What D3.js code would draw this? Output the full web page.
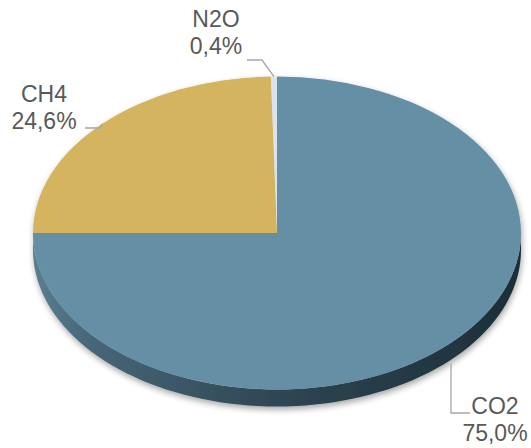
<!DOCTYPE html>
<html>
<head>
<meta charset="utf-8">
<script src="https://cdn.jsdelivr.net/npm/d3@7"></script>
<style>
  html, body { margin: 0; padding: 0; background: #fff; }
  svg { display: block; }
  text { font-family: "Liberation Sans", Arial, sans-serif; fill: #595959; }
</style>
</head>
<body>
<svg id="chart" width="531" height="448"></svg>
<script>
// Greenhouse gas shares
const gases = ["CO2", "CH4", "N2O"];
const shares = [75.0, 24.6, 0.4];
const shareLabels = ["75,0%", "24,6%", "0,4%"];
const topColors = ["#658fa4", "#d5b45f", "#dde3ec"];

const W = 531, H = 448;
const cx = 277, cy = 233;      // centre of the top face
const rx = 244, ry = 156.5;    // ellipse radii of the tilted disc
const depth = 17;              // thickness of the disc

const svg = d3.select("#chart");
const defs = svg.append("defs");

// soft shadow under the disc
const sh = defs.append("filter").attr("id", "shadow")
  .attr("x", "-10%").attr("y", "-10%").attr("width", "120%").attr("height", "130%");
sh.append("feGaussianBlur").attr("in", "SourceAlpha").attr("stdDeviation", 3);
sh.append("feOffset").attr("dx", 1).attr("dy", 3).attr("result", "b");
sh.append("feComponentTransfer").append("feFuncA").attr("type", "linear").attr("slope", 0.35);
const m = sh.append("feMerge");
m.append("feMergeNode");
m.append("feMergeNode").attr("in", "SourceGraphic");

// shading of the side wall
const side = defs.append("linearGradient").attr("id", "sideGrad")
  .attr("gradientUnits", "userSpaceOnUse")
  .attr("x1", cx - rx).attr("x2", cx + rx).attr("y1", 0).attr("y2", 0);
side.append("stop").attr("offset", "0").attr("stop-color", "#5a7f91");
side.append("stop").attr("offset", "0.12").attr("stop-color", "#476677");
side.append("stop").attr("offset", "0.5").attr("stop-color", "#2f4653");
side.append("stop").attr("offset", "1").attr("stop-color", "#1c2e38");

const data = gases.map((g, i) => ({ gas: g, value: shares[i], label: shareLabels[i], color: topColors[i] }));

const pie = d3.pie().sort(null).value(d => d.value).startAngle(0).endAngle(2 * Math.PI);
const arcs = pie(data);

// ellipse point for a d3 angle (0 = 12 o'clock, clockwise)
const pt = (a, dy = 0) => [cx + rx * Math.sin(a), cy - ry * Math.cos(a) + dy];

const g = svg.append("g").attr("filter", "url(#shadow)");

// side walls: only the front half (angles between pi/2 and 3pi/2) is visible
arcs.forEach(a => {
  const a0 = Math.max(a.startAngle, Math.PI / 2);
  const a1 = Math.min(a.endAngle, 3 * Math.PI / 2);
  if (a1 <= a0) return;
  const n = 80;
  const top = d3.range(n + 1).map(k => pt(a0 + (a1 - a0) * k / n));
  const bot = top.map(p => [p[0], p[1] + depth]).reverse();
  g.append("path")
    .attr("d", d3.line()(top.concat(bot)) + "Z")
    .attr("fill", "url(#sideGrad)");
});

// top faces: circular arcs squashed into the ellipse
const arc = d3.arc().innerRadius(0).outerRadius(rx);
g.append("g")
  .attr("transform", `translate(${cx},${cy}) scale(1,${ry / rx})`)
  .selectAll("path")
  .data(arcs)
  .join("path")
  .attr("d", arc)
  .attr("fill", d => d.data.color);

// labels with leader lines
const layout = {
  CO2: { tx: 495, ty: 414, elbow: [[451, 413], [470, 413]], wall: true },
  CH4: { tx: 44, ty: 102, elbow: [[100, 128], [85, 128]], wall: false },
  N2O: { tx: 216, ty: 27, elbow: [[262, 60], [247, 60]], wall: false }
};

arcs.forEach(a => {
  const L = layout[a.data.gas];
  const mid = (a.startAngle + a.endAngle) / 2;
  const start = pt(mid, L.wall ? depth + 3 : 0);
  const pts = L.wall ? [[L.elbow[0][0], start[1]]].concat(L.elbow) : [start].concat(L.elbow);
  svg.append("path")
    .attr("d", d3.line()(pts))
    .attr("fill", "none")
    .attr("stroke", "#a6a6a6")
    .attr("stroke-width", 1.3);
  const t = svg.append("text")
    .attr("text-anchor", "middle")
    .attr("font-size", 23);
  t.append("tspan").attr("x", L.tx).attr("y", L.ty).text(a.data.gas);
  t.append("tspan").attr("x", L.tx).attr("y", L.ty + 27).text(a.data.label);
});
</script>
</body>
</html>
